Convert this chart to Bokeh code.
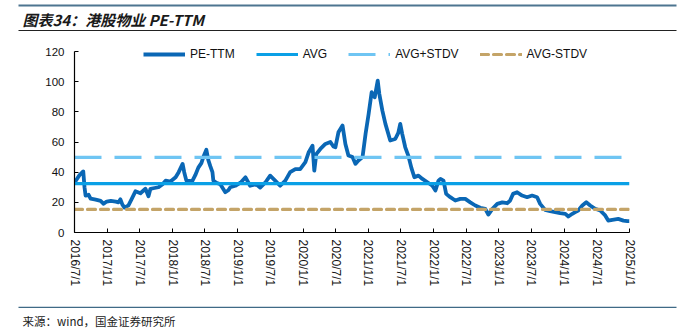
import math
import pandas as pd
from bokeh.plotting import figure
from bokeh.layouts import column
from bokeh.models import FixedTicker, Legend, LegendItem, Label, BoxAnnotation, Range1d
from bokeh.embed import file_html
from bokeh.resources import INLINE

# ---------------- data ----------------
dates = [
    "2016-07-01", "2016-07-12", "2016-07-29", "2016-08-19", "2016-08-26", "2016-09-01",
    "2016-09-18", "2016-09-29", "2016-10-21", "2016-11-08", "2016-11-24", "2016-12-11",
    "2016-12-28", "2017-01-20", "2017-02-17", "2017-03-04", "2017-03-15", "2017-03-26",
    "2017-04-07", "2017-04-29", "2017-05-16", "2017-06-07", "2017-07-05", "2017-08-02",
    "2017-08-19", "2017-08-30", "2017-09-22", "2017-10-14", "2017-11-06", "2017-11-23",
    "2017-12-20", "2018-01-18", "2018-02-04", "2018-02-26", "2018-03-07", "2018-03-19",
    "2018-04-21", "2018-05-08", "2018-05-25", "2018-06-11", "2018-06-22", "2018-07-09",
    "2018-07-20", "2018-07-31", "2018-08-12", "2018-08-17", "2018-09-03", "2018-09-25",
    "2018-10-23", "2018-11-09", "2018-11-20", "2018-12-18", "2019-01-16", "2019-02-13",
    "2019-03-11", "2019-04-14", "2019-05-06", "2019-06-03", "2019-07-01", "2019-07-29",
    "2019-08-26", "2019-09-24", "2019-10-21", "2019-11-19", "2019-12-16", "2020-01-14",
    "2020-02-01", "2020-02-23", "2020-03-04", "2020-03-15", "2020-04-07", "2020-05-05",
    "2020-06-02", "2020-06-19", "2020-06-30", "2020-07-17", "2020-08-09", "2020-08-25",
    "2020-09-11", "2020-10-04", "2020-10-20", "2020-11-06", "2020-11-29", "2020-12-16",
    "2021-01-02", "2021-01-19", "2021-02-05", "2021-02-22", "2021-03-03", "2021-03-20",
    "2021-04-06", "2021-05-03", "2021-05-31", "2021-06-17", "2021-06-28", "2021-07-09",
    "2021-07-26", "2021-08-12", "2021-08-29", "2021-09-15", "2021-10-08", "2021-10-30",
    "2021-11-27", "2021-12-25", "2022-01-11", "2022-01-28", "2022-02-08", "2022-02-25",
    "2022-03-12", "2022-04-04", "2022-05-02", "2022-05-30", "2022-06-27", "2022-07-25",
    "2022-08-22", "2022-09-19", "2022-10-17", "2022-11-03", "2022-11-26", "2022-12-23",
    "2023-01-20", "2023-02-17", "2023-03-05", "2023-03-21", "2023-04-13", "2023-05-11",
    "2023-06-08", "2023-07-06", "2023-08-03", "2023-08-20", "2023-09-17", "2023-10-15",
    "2023-11-12", "2023-12-10", "2024-01-08", "2024-01-25", "2024-02-16", "2024-03-03",
    "2024-03-20", "2024-04-12", "2024-05-04", "2024-05-26", "2024-06-23", "2024-07-21",
    "2024-08-18", "2024-09-04", "2024-09-27", "2024-10-30", "2024-11-28", "2024-12-20",
    "2025-01-01",
]
pe_ttm = [
    33.0, 35.0, 38.0, 40.5, 30.0, 24.5,
    25.0, 22.5, 22.0, 21.5, 21.0, 19.0,
    20.5, 21.0, 20.5, 20.0, 22.0, 18.5,
    16.5, 18.0, 22.0, 27.3, 26.0, 29.0,
    24.0, 29.0, 29.5, 30.0, 32.0, 34.4,
    33.8, 36.6, 40.0, 45.5, 40.0, 34.4,
    34.0, 38.0, 43.0, 46.0, 50.0, 54.8,
    48.0, 44.0, 40.0, 34.4, 33.0, 32.0,
    26.7, 28.0, 30.0, 31.0, 33.0, 36.6,
    31.0, 32.0, 29.8, 33.0, 37.7, 34.4,
    31.0, 34.4, 40.0, 42.0, 42.0, 46.6,
    53.0, 57.6, 41.0, 52.0, 55.4, 58.7,
    60.0, 57.0, 56.5, 66.4, 70.9, 58.7,
    51.0, 50.0, 45.5, 47.7, 50.0, 65.4,
    78.6, 93.0, 89.6, 100.7, 91.8, 80.8,
    72.0, 61.0, 62.0, 66.0, 72.0, 65.4,
    56.5, 51.0, 43.0, 36.6, 37.7, 35.5,
    33.3, 31.0, 27.8, 34.4, 35.5, 34.4,
    25.6, 23.4, 21.2, 22.3, 22.3, 20.0,
    17.9, 16.4, 15.7, 11.9, 15.7, 19.0,
    20.0, 19.4, 21.2, 25.6, 26.7, 24.5,
    23.4, 24.5, 23.4, 19.0, 15.0, 14.1,
    13.5, 12.8, 12.4, 10.6, 12.4, 13.5,
    14.6, 17.9, 20.0, 17.9, 15.7, 14.6,
    11.3, 7.9, 8.4, 9.0, 7.9, 7.5,
    7.5,
]
avg_value = 32.4
avg_plus_stdv = 49.8
avg_minus_stdv = 15.3

tick_labels = [
    "2016/7/1", "2017/1/1", "2017/7/1", "2018/1/1", "2018/7/1", "2019/1/1",
    "2019/7/1", "2020/1/1", "2020/7/1", "2021/1/1", "2021/7/1", "2022/1/1",
    "2022/7/1", "2023/1/1", "2023/7/1", "2024/1/1", "2024/7/1", "2025/1/1",
]
y_ticks = [0, 20, 40, 60, 80, 100, 120]
series_names = ["PE-TTM", "AVG", "AVG+STDV", "AVG-STDV"]
title_text = "图表34：港股物业 PE-TTM"
source_text = "来源：wind，国金证券研究所"

# ---------------- layout constants ----------------
W = 694
TOP_H, MAIN_H, BOT_H = 40, 262, 33


def blank(height):
    f = figure(width=W, height=height, output_backend="svg", toolbar_location=None,
               x_axis_location=None, y_axis_location=None,
               x_range=Range1d(0, W), y_range=Range1d(height, 0),
               min_border=0, min_border_left=0, min_border_right=0,
               min_border_top=0, min_border_bottom=0, frame_align=False)
    f.outline_line_color = None
    f.xgrid.visible = False
    f.ygrid.visible = False
    f.background_fill_color = "white"
    f.border_fill_color = "white"
    return f


def rule(f, y0, y1, color):
    f.add_layout(BoxAnnotation(left=18, right=676, top=y0, bottom=y1,
                               fill_color=color, fill_alpha=1, line_color=None))


# ---- header ----
top = blank(TOP_H)
rule(top, 4, 6, "#4d7590")
rule(top, 29.5, 30.6, "#222222")
top.add_layout(Label(x=22, y=18.5, text=title_text, text_font="Noto Sans CJK SC",
                     text_font_size="15px", text_font_style="bold italic",
                     text_color="#1a1a1a", text_baseline="middle"))

# ---- main chart ----
x = pd.to_datetime(pd.Series(dates))
tick_dt = [pd.to_datetime(t, format="%Y/%m/%d") for t in tick_labels]
tick_ms = [int(t.timestamp() * 1000) for t in tick_dt]
x_ends = pd.to_datetime(pd.Series([dates[0], dates[-1]]))

# frame spans canvas y 40..232; 120 sits at y=51, so the range runs a little past 120
px_per_unit = 181 / 120.0
y_top = 120 + 11 / px_per_unit

p = figure(width=W, height=MAIN_H, x_axis_type="datetime", output_backend="svg",
           toolbar_location=None, min_border_left=74, min_border_right=65,
           min_border_top=0, min_border_bottom=70, frame_align=False,
           x_range=Range1d(tick_ms[0], tick_ms[-1]), y_range=Range1d(0, y_top))
p.outline_line_color = None
p.xgrid.visible = False
p.ygrid.visible = False
p.background_fill_color = "white"
p.border_fill_color = "white"

r_pe = p.line(x, pe_ttm, line_color="#0a67b5", line_width=3.8, line_join="round")
r_avg = p.line(x_ends, [avg_value] * 2, line_color="#0aa0e6", line_width=3.2)
r_up = p.line(x_ends, [avg_plus_stdv] * 2, line_color="#6fc5f3", line_width=3.2,
              line_dash="27 13")
r_dn = p.line(x_ends, [avg_minus_stdv] * 2, line_color="#c4a468", line_width=3.2,
              line_dash="8 5", line_cap="round")

p.xaxis.ticker = FixedTicker(ticks=tick_ms)
p.xaxis.major_label_overrides = {t: s for t, s in zip(tick_ms, tick_labels)}
p.xaxis.major_label_orientation = -math.pi / 2
p.yaxis.ticker = FixedTicker(ticks=y_ticks)
p.yaxis.bounds = (0, 120)
for ax in (p.xaxis, p.yaxis):
    ax.axis_line_color = "black"
    ax.axis_line_width = 1.2
    ax.major_tick_line_color = "black"
    ax.major_tick_in = 4
    ax.major_tick_out = 0
    ax.minor_tick_line_color = None
    ax.major_label_text_color = "#111111"
    ax.major_label_text_font = "Liberation Sans"
p.xaxis.major_label_text_font_size = "12px"
p.yaxis.major_label_text_font_size = "11.5px"
p.xaxis.major_label_standoff = 7
p.yaxis.major_label_standoff = 10

items = [LegendItem(label=n, renderers=[r])
         for n, r in zip(series_names, [r_pe, r_avg, r_up, r_dn])]
leg = Legend(items=items, orientation="horizontal", location=(69, 170),
             glyph_width=42, glyph_height=16, label_height=16, label_standoff=5,
             spacing=21, padding=0, margin=0, border_line_color=None,
             background_fill_alpha=0, label_text_font="Liberation Sans",
             label_text_font_size="12px", label_text_color="#111111")
p.add_layout(leg, "center")

# ---- footer ----
bot = blank(BOT_H)
rule(bot, 4.2, 5.6, "#3f6a86")
bot.add_layout(Label(x=22, y=18, text=source_text, text_font="Noto Sans CJK SC",
                     text_font_size="11.5px", text_color="#222222", text_baseline="middle"))

layout = column(top, p, bot, spacing=0)
open("out.html", "w").write(file_html(layout, INLINE))
